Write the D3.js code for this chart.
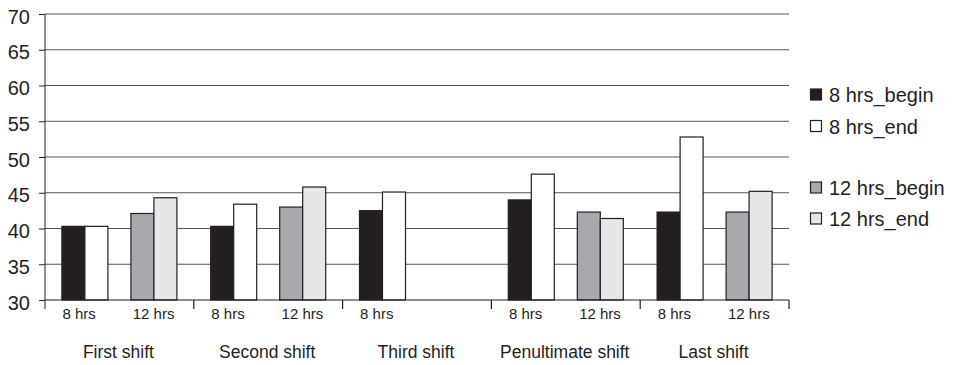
<!DOCTYPE html>
<html>
<head>
<meta charset="utf-8">
<script src="https://cdn.jsdelivr.net/npm/d3@7"></script>
<style>
    body { margin: 0; background: #fff; }
    svg text { font-family: "Liberation Sans", Arial, sans-serif; fill: #231f20; }
</style>
</head>
<body>
<div id="chart"></div>
<script>
// values
const shifts = ["First shift", "Second shift", "Third shift", "Penultimate shift", "Last shift"];
const durations = ["8 hrs", "12 hrs"];
const phases = ["begin", "end"];
const seriesNames = ["8 hrs_begin", "8 hrs_end", "12 hrs_begin", "12 hrs_end"];
const hrs8Begin = [40.3, 40.3, 42.5, 44.0, 42.3];
const hrs8End = [40.3, 43.4, 45.1, 47.6, 52.8];
const hrs12Begin = [42.1, 43.0, null, 42.3, 42.3];
const hrs12End = [44.3, 45.8, null, 41.4, 45.2];
const yTicks = [30, 35, 40, 45, 50, 55, 60, 65, 70];

class ShiftBarChart {
    constructor(_config) {
        this.config = {
            parentElement: _config.parentElement,
            containerWidth: _config.containerWidth || 958,
            containerHeight: _config.containerHeight || 365,
            margin: _config.margin || { top: 14, right: 169, bottom: 65, left: 45 },
        };
        this.colors = {
            "8 hrs_begin": "#231f20",
            "8 hrs_end": "#ffffff",
            "12 hrs_begin": "#a7a9ac",
            "12 hrs_end": "#e6e7e8",
        };
        this.initVis();
    }

    initVis() {
        let vis = this;
        vis.width = vis.config.containerWidth - vis.config.margin.left - vis.config.margin.right;
        vis.height = vis.config.containerHeight - vis.config.margin.top - vis.config.margin.bottom;

        vis.svg = d3.select(vis.config.parentElement)
            .append("svg")
            .attr("width", vis.config.containerWidth)
            .attr("height", vis.config.containerHeight);

        vis.chart = vis.svg.append("g")
            .attr("transform", `translate(${vis.config.margin.left},${vis.config.margin.top})`);

        vis.data = [];
        shifts.forEach((shift, i) => {
            const vals = { "8 hrs_begin": hrs8Begin[i], "8 hrs_end": hrs8End[i], "12 hrs_begin": hrs12Begin[i], "12 hrs_end": hrs12End[i] };
            durations.forEach((dur) => {
                phases.forEach((ph) => {
                    const key = `${dur}_${ph}`;
                    if (vals[key] != null) vis.data.push({ shift, dur, ph, key, value: vals[key] });
                });
            });
        });
        vis.renderVis();
    }

    renderVis() {
        let vis = this;
        vis.yScale = d3.scaleLinear().domain([30, 70]).range([vis.height, 0]);
        vis.groupScale = d3.scaleBand().domain(shifts).range([0, vis.width]);
        vis.subScale = d3.scaleBand().domain(durations).range([0, vis.groupScale.bandwidth()]).paddingOuter(0.078);
        vis.slotScale = d3.scaleBand().domain(durations).range([0, vis.groupScale.bandwidth()]);
        vis.barScale = d3.scaleBand().domain(phases).range([0, vis.subScale.bandwidth()]).paddingOuter(0.5);

        // gridlines
        vis.chart.append("g")
            .selectAll("line").data(yTicks.slice(1))
            .join("line")
            .attr("x1", 0).attr("x2", vis.width)
            .attr("y1", (d) => vis.yScale(d)).attr("y2", (d) => vis.yScale(d))
            .attr("stroke", "#555").attr("stroke-width", 1.2);

        // y axis
        const yAxis = d3.axisLeft(vis.yScale).tickValues(yTicks).tickSize(6).tickPadding(8);
        const yg = vis.chart.append("g").call(yAxis);
        yg.select(".domain").attr("stroke", "#231f20").attr("d", `M0,${vis.height + 9}V0`);
        yg.selectAll(".tick line").attr("stroke", "#231f20");
        yg.selectAll(".tick text")
            .attr("font-size", 20).attr("dy", "0.45em").attr("x", -15)
            .style("font-family", "'Liberation Sans', Arial, sans-serif").attr("fill", "#231f20");

        // bars
        vis.chart.selectAll(".bar").data(vis.data)
            .join("rect")
            .attr("class", "bar")
            .attr("x", (d) => vis.groupScale(d.shift) + vis.subScale(d.dur) + vis.barScale(d.ph))
            .attr("y", (d) => vis.yScale(d.value))
            .attr("width", vis.barScale.bandwidth())
            .attr("height", (d) => vis.height - vis.yScale(d.value))
            .attr("fill", (d) => vis.colors[d.key])
            .attr("stroke", "#231f20").attr("stroke-width", 1.2);

        // x axis baseline and group ticks
        vis.chart.append("line")
            .attr("x1", 0).attr("x2", vis.width)
            .attr("y1", vis.height).attr("y2", vis.height)
            .attr("stroke", "#231f20").attr("stroke-width", 1.2);
        const bounds = shifts.map((s) => vis.groupScale(s) + vis.groupScale.bandwidth());
        vis.chart.append("g").selectAll("line").data(bounds)
            .join("line")
            .attr("x1", (d) => d).attr("x2", (d) => d)
            .attr("y1", vis.height).attr("y2", vis.height + 9)
            .attr("stroke", "#231f20").attr("stroke-width", 1.2);

        // duration labels
        const subLabels = [];
        shifts.forEach((shift, i) => {
            durations.forEach((dur) => {
                if (vis.data.some((d) => d.shift === shift && d.dur === dur)) subLabels.push({ shift, dur });
            });
        });
        vis.chart.selectAll(".sub-label").data(subLabels)
            .join("text")
            .attr("class", "sub-label")
            .attr("x", (d) => vis.groupScale(d.shift) + vis.slotScale(d.dur) + vis.slotScale.bandwidth() / 2 - 3)
            .attr("y", vis.height + 18.5)
            .attr("text-anchor", "middle")
            .attr("font-size", 15)
            .text((d) => d.dur);

        // shift labels
        vis.chart.selectAll(".group-label").data(shifts)
            .join("text")
            .attr("class", "group-label")
            .attr("x", (d) => vis.groupScale(d) + vis.groupScale.bandwidth() / 2 - 1)
            .attr("y", vis.height + 58)
            .attr("text-anchor", "middle")
            .attr("font-size", 17.5)
            .text((d) => d);

        // legend
        const legendY = [95, 126.5, 188, 219];
        const legend = vis.svg.append("g").selectAll("g").data(seriesNames)
            .join("g")
            .attr("transform", (d, i) => `translate(810,${legendY[i]})`);
        legend.append("rect")
            .attr("x", 0.5).attr("y", -6).attr("width", 11).attr("height", 11)
            .attr("fill", (d) => vis.colors[d])
            .attr("stroke", "#231f20").attr("stroke-width", 1.2);
        legend.append("text")
            .attr("x", 19).attr("y", 7)
            .attr("font-size", 20)
            .text((d) => d);
    }
}

new ShiftBarChart({ parentElement: "#chart" });
</script>
</body>
</html>
